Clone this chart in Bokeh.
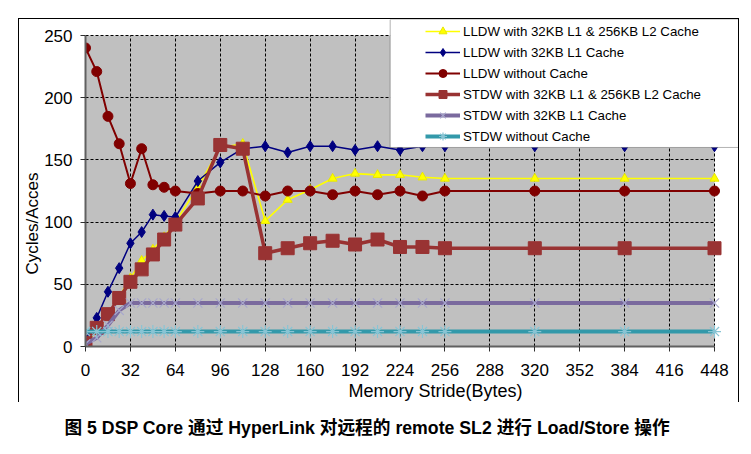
import math
from bokeh.plotting import figure
from bokeh.layouts import column
from bokeh.models import (Range1d, FixedTicker, Legend, LegendItem, BoxAnnotation,
                          Title)
from bokeh.embed import file_html
from bokeh.resources import INLINE

# ---------------- data ----------------
stride = [0, 8, 16, 24, 32, 40, 48, 56, 64, 80, 96, 112, 128, 144, 160, 176,
          192, 208, 224, 240, 256, 320, 384, 448]
lldw_l1l2 = [3, 12, 25, 40, 55, 69, 78, 88, 100, 128, 160, 163, 101, 118, 126,
             135, 139, 138, 138, 136, 135, 135, 135, 135]
lldw_l1 = [5, 23, 44, 63, 83, 92, 106, 105, 104, 133, 148, 159, 161, 156, 161,
           161, 158, 161, 158, 161, 161, 161, 161, 161]
lldw_nc = [240, 221, 185, 163, 131, 159, 130, 128, 125, 123, 125, 125, 121, 125,
           125, 122, 125, 122, 125, 121, 125, 125, 125, 125]
stdw_l1l2 = [3, 15, 26, 39, 52, 62, 74, 86, 98, 119, 162, 159, 75, 79, 83, 85,
             82, 86, 80, 80, 79, 79, 79, 79]
stdw_l1 = [2, 7, 17, 29, 35, 35, 35, 35, 35, 35, 35, 35, 35, 35, 35, 35, 35, 35,
           35, 35, 35, 35, 35, 35]
stdw_nc = [12, 12, 12, 12, 12, 12, 12, 12, 12, 12, 12, 12, 12, 12, 12, 12, 12,
           12, 12, 12, 12, 12, 12, 12]
series_names = [
    "LLDW with 32KB L1 & 256KB L2 Cache",
    "LLDW with 32KB L1 Cache",
    "LLDW without Cache",
    "STDW with 32KB L1 & 256KB L2 Cache",
    "STDW with 32KB L1 Cache",
    "STDW without Cache",
]
x_ticks = [0, 32, 64, 96, 128, 160, 192, 224, 256, 288, 320, 352, 384, 416, 448]
y_ticks = [0, 50, 100, 150, 200, 250]
x_title = "Memory Stride(Bytes)"
y_title = "Cycles/Acces"
caption = "图 5  DSP Core 通过 HyperLink 对远程的 remote SL2 进行 Load/Store 操作"

# ---------------- layout geometry (pixels) ----------------
W, H = 721, 384          # chart box (with outer border)
FL, FR, FT, FB = 66, 0, 0, 57   # borders around the frame
frame_w = W - FL - FR
frame_h = H - FT - FB
plot_w, plot_h = 629, 311      # the grey plotting area inside the frame
X_MAX, Y_MAX = 448, 250
x_end = X_MAX * frame_w / plot_w
y_end = Y_MAX * frame_h / plot_h

p = figure(width=W, height=H, output_backend="svg", toolbar_location=None,
           title=None,
           x_range=Range1d(0, x_end), y_range=Range1d(0, y_end),
           min_border_left=FL, min_border_right=FR, min_border_top=FT,
           min_border_bottom=FB)
p.margin = (18, 0, 0, 18)
p.styles = {"border-left": "1px solid black", "border-top": "1px solid black",
            "border-right": "1px solid black"}
p.background_fill_color = "white"
p.border_fill_color = "white"
p.outline_line_color = None

# grey plotting area, drawn under the grid
p.quad(left=[0], right=[X_MAX], bottom=[0], top=[Y_MAX],
       fill_color="#C0C0C0", line_color=None, level="underlay")

FONT = "Liberation Sans"
for ax in (p.xaxis[0], p.yaxis[0]):
    ax.axis_line_color = "#606060"
    ax.axis_line_width = 2
    ax.major_tick_in = 0
    ax.major_tick_out = 5
    ax.major_tick_line_color = "#303030"
    ax.minor_tick_line_color = None
    ax.major_label_text_font = FONT
    ax.major_label_text_font_size = "17px"
    ax.major_label_text_color = "black"
p.xaxis.ticker = FixedTicker(ticks=x_ticks)
p.yaxis.ticker = FixedTicker(ticks=y_ticks)
p.xaxis.bounds = (0, X_MAX)
p.yaxis.bounds = (0, Y_MAX)
p.xaxis.major_label_standoff = 12
p.yaxis.major_label_standoff = 8

grid_ok = True
for g, cb in ((p.xgrid[0], (0, Y_MAX)), (p.ygrid[0], (0, X_MAX))):
    g.grid_line_color = "black"
    g.grid_line_dash = "3 2"
    g.grid_line_width = 1
    try:
        g.cross_bounds = cb
    except Exception:
        grid_ok = False
p.xgrid.ticker = FixedTicker(ticks=x_ticks)
p.ygrid.ticker = FixedTicker(ticks=y_ticks)
if not grid_ok:
    p.xgrid.visible = False
    p.ygrid.visible = False
    p.segment(x0=x_ticks, y0=[0] * len(x_ticks), x1=x_ticks,
              y1=[Y_MAX] * len(x_ticks), line_color="black", line_dash="3 2",
              line_width=1, level="underlay")
    p.segment(x0=[0] * len(y_ticks), y0=y_ticks, x1=[X_MAX] * len(y_ticks),
              y1=y_ticks, line_color="black", line_dash="3 2",
              line_width=1, level="underlay")

# ---------------- series ----------------
items = []

l = p.line(stride, lldw_l1l2, line_color="#FFFF00", line_width=1.6)
m = p.scatter(stride, lldw_l1l2, marker="triangle", size=9,
              fill_color="#FFFF00", line_color="#E8E800")
items.append(LegendItem(label=series_names[0], renderers=[l, m]))

l = p.line(stride, lldw_l1, line_color="#000080", line_width=1.5)
m = p.scatter(stride, lldw_l1, marker="diamond", size=11,
              fill_color="#000080", line_color="#000080")
items.append(LegendItem(label=series_names[1], renderers=[l, m]))

l = p.line(stride, lldw_nc, line_color="#800000", line_width=2)
m = p.scatter(stride, lldw_nc, marker="circle", size=10,
              fill_color="#800000", line_color="#800000")
items.append(LegendItem(label=series_names[2], renderers=[l, m]))

l = p.line(stride, stdw_l1l2, line_color="#993333", line_width=3.5)
m = p.scatter(stride, stdw_l1l2, marker="square", size=13,
              fill_color="#993333", line_color="#993333")
items.append(LegendItem(label=series_names[3], renderers=[l, m]))

l = p.line(stride, stdw_l1, line_color="#7A6A9E", line_width=4)
m = p.scatter(stride, stdw_l1, marker="x", size=13,
              line_color="#A8A8CC", line_width=1.2)
items.append(LegendItem(label=series_names[4], renderers=[l, m]))

l = p.line(stride, stdw_nc, line_color="#3399AA", line_width=4)
m = p.scatter(stride, stdw_nc, marker="asterisk", size=13,
              line_color="#88C4D4", line_width=1.2)
items.append(LegendItem(label=series_names[5], renderers=[l, m]))

# ---------------- legend ----------------
p.add_layout(BoxAnnotation(left=217, bottom=160, fill_color="white",
                           fill_alpha=1, line_color="black", line_width=1))
legend = Legend(items=items, location=(338, 198), margin=0, padding=2,
                spacing=1, glyph_width=35, glyph_height=20, label_height=20,
                label_standoff=3, background_fill_alpha=0,
                border_line_alpha=0, label_text_font=FONT,
                label_text_font_size="13.3px", label_text_color="black")
p.add_layout(legend)

# ---------------- axis titles ----------------
p.add_layout(Title(text=y_title, align="left", offset=72, standoff=0,
                   text_font=FONT, text_font_size="17px",
                   text_font_style="normal", text_color="black"), "left")
p.add_layout(Title(text=x_title, align="left", offset=263, standoff=0,
                   text_font=FONT, text_font_size="18px",
                   text_font_style="normal", text_color="black"), "below")

# ---------------- caption ----------------
cap = figure(width=751, height=52, output_backend="svg", toolbar_location=None,
             title=None, x_range=Range1d(0, 1), y_range=Range1d(0, 1),
             min_border=0, min_border_top=36, x_axis_type=None,
             y_axis_type=None)
cap.outline_line_color = None
cap.add_layout(Title(text=caption, align="left", offset=64 - FL, standoff=0,
                     vertical_align="middle",
                     text_font="Liberation Sans, Noto Sans CJK SC",
                     text_font_style="bold", text_font_size="17.7px",
                     text_color="black"), "above")

layout = column(p, cap, spacing=0)
open("out.html", "w").write(file_html(layout, INLINE))
